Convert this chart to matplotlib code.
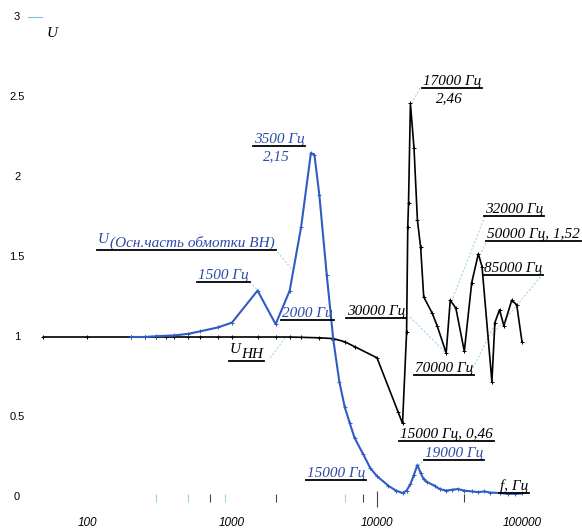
import numpy as np
import matplotlib
matplotlib.use("Agg")
import matplotlib.pyplot as plt

# --- data ---
# U of the main part of the HV winding (blue)
f_vn = [200, 250, 300, 400, 500, 600, 800, 1000, 1500, 2000, 2500, 3000,
        3500, 3700, 4000, 4500, 5000, 5500, 6000, 6500, 7000, 8000, 9000,
        10000, 12000, 13500, 15000, 16000, 17000, 18000, 19000, 20000, 21000,
        22000, 25000, 27000, 30000, 33000, 36000, 40000, 45000, 50000, 55000,
        60000, 70000, 80000, 90000, 100000]
u_vn = [1.0, 1.0, 1.005, 1.01, 1.02, 1.035, 1.06, 1.09, 1.29, 1.08, 1.29, 1.69,
        2.15, 2.14, 1.89, 1.39, 0.98, 0.72, 0.56, 0.46, 0.37, 0.27, 0.18,
        0.13, 0.07, 0.04, 0.025, 0.04, 0.08, 0.14, 0.20, 0.15, 0.11,
        0.095, 0.07, 0.05, 0.04, 0.045, 0.05, 0.04, 0.035, 0.03, 0.035,
        0.028, 0.025, 0.02, 0.02, 0.022]

# U_HH (black)
f_nn = [50, 100, 200, 250, 300, 350, 400, 500, 600, 800, 1000, 1500, 2000,
        2500, 3000, 4000, 5000, 6000, 7000, 10000, 14000, 15000, 16000, 16300,
        16500, 17000, 18000, 19000, 20000, 21000, 24000, 26000, 30000, 32000,
        35000, 40000, 45000, 50000, 53000, 62000, 65000, 70000, 75000, 85000,
        92000, 100000]
u_nn = [1.0, 1.0, 1.0, 1.0, 1.0, 1.0, 1.0, 1.0, 1.0, 1.0, 1.0, 1.0, 1.0,
        1.0, 0.998, 0.995, 0.99, 0.97, 0.94, 0.87, 0.53, 0.46, 1.03, 1.69,
        1.84, 2.46, 2.18, 1.73, 1.56, 1.25, 1.15, 1.07, 0.90, 1.23,
        1.18, 0.91, 1.34, 1.52, 1.44, 0.72, 1.09, 1.17, 1.07, 1.23,
        1.20, 0.97]

y_ticks = [0, 0.5, 1, 1.5, 2, 2.5, 3]
y_tick_labels = ["0", "0.5", "1", "1.5", "2", "2.5", "3"]
x_ticks = [100, 1000, 10000, 100000]
x_tick_labels = ["100", "1000", "10000", "100000"]
# stray small marks along the zero line
marks_blue = [300, 500, 900, 6000]
marks_black = [700, 2000, 8000, 40000]

BLUE = "#2f5cc4"
TBLUE = "#2a4aa8"
LEAD = "#a8d4ee"
SERIF = ["Liberation Serif", "DejaVu Serif"]
SANS = ["Liberation Sans", "DejaVu Sans"]

fig = plt.figure(figsize=(5.82, 5.32), dpi=100)
ax = fig.add_axes([0, 0, 1, 1])
ax.set_xscale("log")
ax.set_xlim(10 ** (2 - 87 / 145), 10 ** (2 + 495 / 145))
ax.set_ylim(-35 / 160, 497 / 160)
ax.axis("off")

ax.plot(f_nn, u_nn, color="black", lw=1.2, marker="+", ms=3, mew=0.7, zorder=3)
ax.plot(f_vn, u_vn, color=BLUE, lw=1.5, marker="+", ms=3, mew=0.7, zorder=4)

# axis labels as text
for v, s in zip(y_ticks, y_tick_labels):
    ax.text(33, v, s, ha="center", va="center", fontsize=8, family=SANS)
for v, s in zip(x_ticks, x_tick_labels):
    ax.text(v, -0.16, s, ha="center", va="center", fontsize=8.5,
            family=SANS, fontstyle="italic")
ax.plot([39, 49], [3, 3], color="#7cc0e6", lw=0.8)
ax.text(53, 2.875, "U", fontsize=11, family=SERIF, fontstyle="italic", va="baseline")

ax.vlines(marks_blue, -0.03, 0.02, color="#9fd0ee", lw=0.8)
ax.vlines(marks_black, -0.03, 0.02, color="#444444", lw=0.8)
ax.vlines([10000], -0.06, 0.04, color="#444444", lw=0.8)

groups = []


def label(parts, color, ha="left"):
    # parts: list of (x, y, text); underlined together
    ts = []
    for x, y, s in parts:
        ts.append(ax.text(x, y, s, color=color, ha=ha, va="baseline",
                          fontsize=11, family=SERIF, fontstyle="italic", zorder=5))
    groups.append((ts, parts[-1] if ha == "left" else parts[0]))


def lead(x0, y0, x1, y1):
    ax.plot([x0, x1], [y0, y1], color=LEAD, lw=0.8, ls=(0, (2, 1.5)), zorder=2)


label([(119, 1.5875, "U"), (144, 1.5625, "(Осн.часть обмотки ВН)")], TBLUE)
label([(583, 1.3625, "1500 Гц")], TBLUE)
label([(2110, 2.2125, "3500 Гц")], TBLUE, ha="center")
ax.text(2010, 2.106, "2,15", color=TBLUE, ha="center", va="baseline",
        fontsize=11, family=SERIF, fontstyle="italic")
label([(2213, 1.125, "2000 Гц")], TBLUE)
label([(6210, 1.1375, "30000 Гц")], "black")
label([(32900, 2.575, "17000 Гц")], "black", ha="center")
ax.text(31400, 2.469, "2,46", ha="center", va="baseline",
        fontsize=11, family=SERIF, fontstyle="italic")
label([(55600, 1.775, "32000 Гц")], "black")
label([(57400, 1.619, "50000 Гц, 1,52")], "black")
label([(54700, 1.406, "85000 Гц")], "black")
label([(18300, 0.781, "70000 Гц")], "black")
label([(968, 0.9, "U"), (1150, 0.869, "HH")], "black")
label([(14400, 0.369, "15000 Гц, 0,46")], "black")
label([(21400, 0.25, "19000 Гц")], TBLUE)
label([(3290, 0.125, "15000 Гц")], TBLUE)
label([(70500, 0.045, "f, Гц")], "black")

lead(1980, 1.55, 2600, 1.42)
lead(1330, 1.344, 1510, 1.29)
lead(19800, 2.556, 17400, 2.46)
lead(55600, 1.756, 32900, 1.231)
lead(56500, 1.5875, 52100, 1.525)
lead(139600, 1.394, 62100, 1.0125)
lead(45900, 0.806, 66200, 1.094)
lead(16900, 1.125, 29900, 0.9)
lead(1829, 0.869, 2324, 0.994)
lead(21400, 0.2375, 19500, 0.2)

# underline each label group
fig.canvas.draw()
r = fig.canvas.get_renderer()
inv = ax.transData.inverted()
for ts, (bx, by, _) in groups:
    bbs = [t.get_window_extent(renderer=r) for t in ts]
    x0 = min(b.x0 for b in bbs) - 1
    x1 = max(b.x1 for b in bbs) + 1
    yb = ax.transData.transform((bx, by))[1] - 3
    (dx0, dy), (dx1, _) = inv.transform([(x0, yb), (x1, yb)])
    ax.plot([dx0, dx1], [dy, dy], color="black", lw=1.3, zorder=5)

fig.savefig("out.png", dpi=100, facecolor="white")
